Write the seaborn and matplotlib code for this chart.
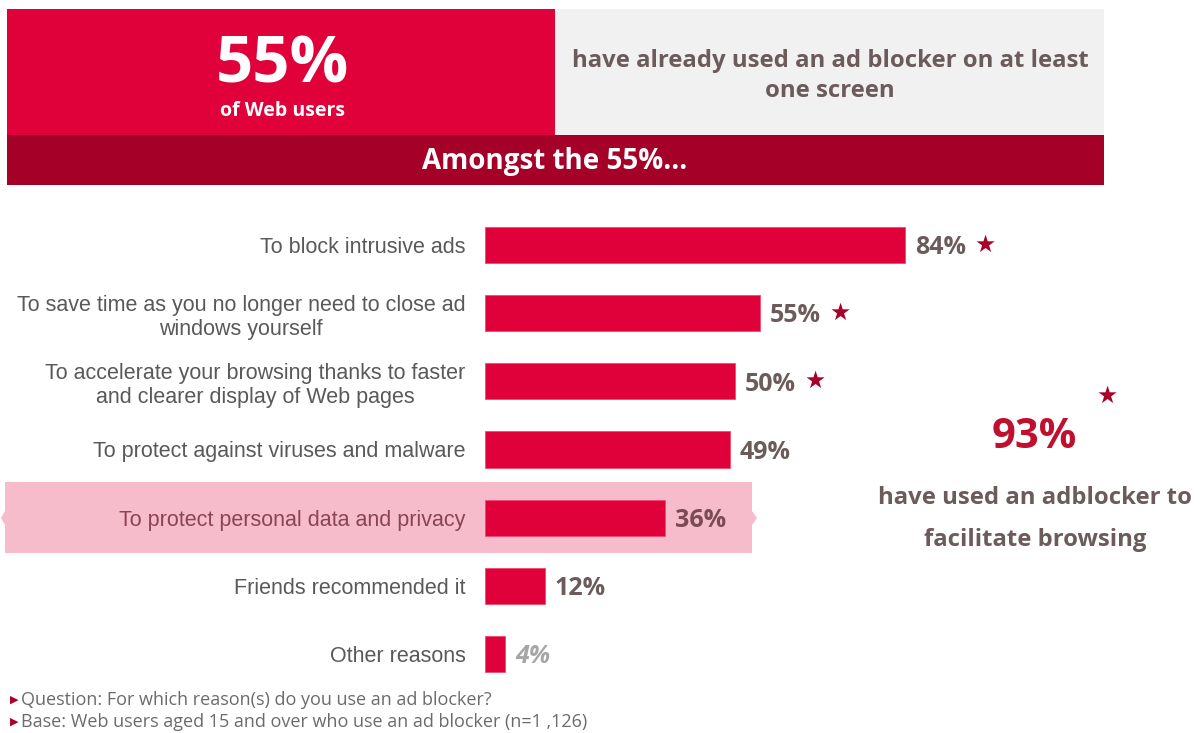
import matplotlib
matplotlib.use("Agg")
import matplotlib.pyplot as plt
import matplotlib.transforms as mtransforms
from matplotlib.patches import Rectangle, Polygon
import seaborn as sns
import pandas as pd

categories = [
    "To block intrusive ads",
    "To save time as you no longer need to close ad\nwindows yourself",
    "To accelerate your browsing thanks to faster\nand clearer display of Web pages",
    "To protect against viruses and malware",
    "To protect personal data and privacy",
    "Friends recommended it",
    "Other reasons",
]
values = [84, 55, 50, 49, 36, 12, 4]
starred = [True, True, True, False, False, False, False]
headline_value = "55%"
headline_sub = "of Web users"
headline_text = "have already used an ad blocker on at least\none screen"
band_text = "Amongst the 55%..."
side_value = "93%"
side_text = "have used an adblocker to\nfacilitate browsing"
notes = ["Question: For which reason(s) do you use an ad blocker?",
         "Base: Web users aged 15 and over who use an ad blocker (n=1 ,126)"]

RED = "#e0003a"
DARK_RED = "#a50028"
STAR = "#a8002a"
GRAY_TXT = "#6b5b5b"
LABEL_TXT = "#595959"
PINK = "#f6bccb"

sns.set_theme(style="white")
plt.rcParams["font.family"] = ["Liberation Sans", "DejaVu Sans"]

W, H = 1200, 733
fig = plt.figure(figsize=(12, 7.33), dpi=100)

# overlay axes in pixel coordinates
ov = fig.add_axes([0, 0, 1, 1], zorder=0)
ov.set_xlim(0, W)
ov.set_ylim(H, 0)
ov.axis("off")

HF = "Open Sans"
# header
ov.add_patch(Rectangle((7, 9), 548, 126, color=RED, lw=0))
ov.add_patch(Rectangle((555, 9), 549, 126, color="#f1f1f1", lw=0))
ov.add_patch(Rectangle((7, 135), 1097, 50, color=DARK_RED, lw=0))
ov.text(282, 66, headline_value, color="white", fontsize=47, fontweight="bold",
        family=HF, ha="center", va="center")
ov.text(282, 111, headline_sub, color="white", fontsize=14, fontweight="bold",
        family=HF, ha="center", va="center")
ov.text(830, 76, headline_text, color=GRAY_TXT, fontsize=17.2, fontweight="bold",
        family=HF, ha="center", va="center", multialignment="center", linespacing=1.38)
ov.text(555, 162, band_text, color="white", fontsize=20, fontweight="bold",
        family=HF, ha="center", va="center")

# highlight band
ov.add_patch(Polygon([(5, 482), (752, 482), (752, 511), (757, 518), (752, 525),
                      (752, 553), (5, 553), (5, 525), (1, 518), (5, 511)],
                     closed=True, color=PINK, lw=0))

# side annotation
ov.text(1107, 396, "\u2605", color=STAR, fontsize=17, family="DejaVu Sans",
        ha="center", va="center")
ov.text(1034, 438, side_value, color="#c0102f", fontsize=30, fontweight="bold",
        family=HF, ha="center", va="center")
ov.text(1035, 519, side_text, color=GRAY_TXT, fontsize=17.2, fontweight="bold",
        family=HF, ha="center", va="center", multialignment="center", linespacing=2.05)

# footer
for i, n in enumerate(notes):
    y = 700 + i * 22
    ov.text(10, y, "\u25B6", color=STAR, fontsize=8, family="DejaVu Sans",
            ha="left", va="center")
    ov.text(21, y, n, color="#6b6b6b", fontsize=13, family=HF,
            ha="left", va="center")

# bars axes
left = 485 / W
width = 500 / W
top_px, bot_px = 211, 688
ax = fig.add_axes([left, 1 - bot_px / H, width, (bot_px - top_px) / H], zorder=1)
ax.patch.set_alpha(0)
df = pd.DataFrame({"reason": categories, "value": values})
sns.barplot(data=df, y="reason", x="value", orient="h", color=RED,
            width=0.53, saturation=1, ax=ax, edgecolor="#f04a70", linewidth=0.6)
ax.set_xlim(0, 100)
ax.set_ylim(len(categories) - 0.5, -0.5)
for s in ax.spines.values():
    s.set_visible(False)
ax.set_xticks([])
ax.set_xlabel("")
ax.set_ylabel("")
ax.tick_params(axis="y", length=0, pad=14)
ax.set_yticks(range(len(categories)))
ax.set_yticklabels(categories, fontsize=15.5, color=LABEL_TXT,
                   multialignment="center", linespacing=1.2)
ax.get_yticklabels()[4].set_color("#8a4454")

for i, (v, st) in enumerate(zip(values, starred)):
    if i == 4:
        col, style = "#7a4a55", "normal"
    elif i == 6:
        col, style = "#a6a6a6", "italic"
    else:
        col, style = GRAY_TXT, "normal"
    tr = mtransforms.offset_copy(ax.transData, fig=fig, x=10, y=0, units="dots")
    ax.text(v, i + 0.04, f"{v}%", transform=tr, color=col, fontsize=18,
            fontweight="bold", style=style, family=HF, ha="left", va="center")
    if st:
        tr2 = mtransforms.offset_copy(ax.transData, fig=fig, x=80, y=0, units="dots")
        ax.text(v, i, "\u2605", transform=tr2, color=STAR, fontsize=17,
                family="DejaVu Sans", ha="center", va="center")

fig.savefig("out.png", dpi=100)
